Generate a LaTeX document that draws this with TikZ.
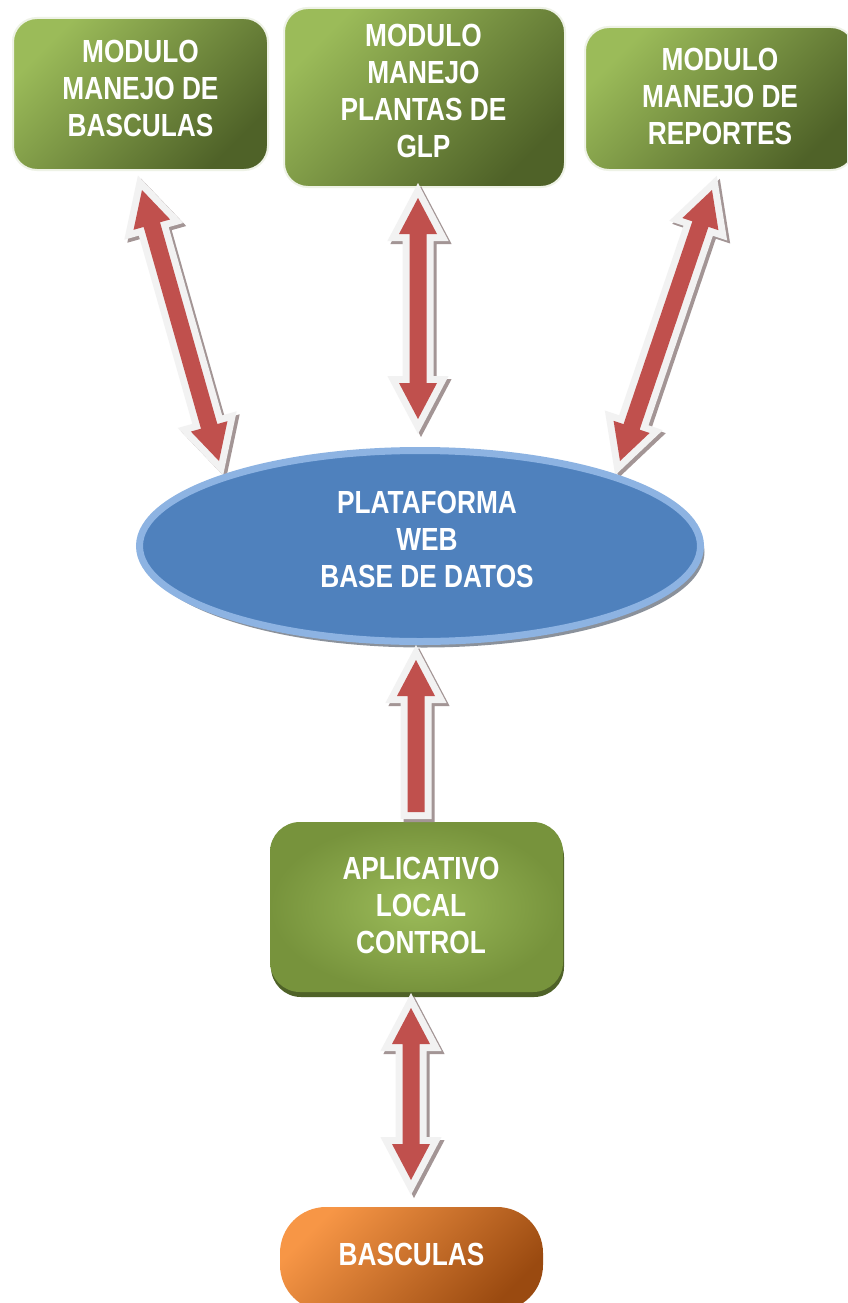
\documentclass[tikz,border=0pt]{standalone}
\usepackage{fontspec}
\newfontfamily\narrowfont{Liberation Sans}[FakeStretch=0.82]
\usetikzlibrary{calc,shapes.geometric,shadows,backgrounds}
\definecolor{gl}{HTML}{9BBB59}
\definecolor{gm}{HTML}{77933C}
\definecolor{gd}{HTML}{4F6228}
\definecolor{boxedge}{HTML}{EEF2E6}
\definecolor{webfill}{HTML}{4F81BD}
\definecolor{webedge}{HTML}{8DB3E2}
\definecolor{webshadow}{HTML}{8A919B}
\definecolor{orl}{HTML}{F79646}
\definecolor{ord}{HTML}{9A4A10}
\definecolor{arrred}{HTML}{C0504D}
\definecolor{arrwhite}{HTML}{F2F2F2}
\definecolor{arrshadow}{HTML}{A39595}
% double-headed block arrow outline between two tips
\newcommand{\dblpath}[2]{(#1) -- ($(#1)!36pt!(#2)!19pt!90:(#2)$) -- ($(#1)!36pt!(#2)!8.5pt!90:(#2)$) -- ($(#2)!36pt!(#1)!8.5pt!-90:(#1)$) -- ($(#2)!36pt!(#1)!19pt!-90:(#1)$) -- (#2) -- ($(#2)!36pt!(#1)!19pt!90:(#1)$) -- ($(#2)!36pt!(#1)!8.5pt!90:(#1)$) -- ($(#1)!36pt!(#2)!8.5pt!-90:(#2)$) -- ($(#1)!36pt!(#2)!19pt!-90:(#2)$) -- cycle}
% single-headed block arrow: tip #1, flat tail #2
\newcommand{\sglpath}[2]{(#1) -- ($(#1)!36pt!(#2)!19pt!90:(#2)$) -- ($(#1)!36pt!(#2)!8.5pt!90:(#2)$) -- ($(#2)!8.5pt!-90:(#1)$) -- ($(#2)!8.5pt!90:(#1)$) -- ($(#1)!36pt!(#2)!8.5pt!-90:(#2)$) -- ($(#1)!36pt!(#2)!19pt!-90:(#2)$) -- cycle}
\newcommand{\blockarrow}[3]{%
  \fill[arrshadow, draw=arrshadow, line width=14pt, line join=miter, transform canvas={shift={(3pt,-3pt)}}] #1{#2}{#3};
  \draw[arrwhite, fill=arrwhite, line width=14pt, line join=miter] #1{#2}{#3};
  \fill[arrred] #1{#2}{#3};}
\begin{document}
\begin{tikzpicture}[x=1pt,y=-1pt,
  lbl/.style={text=white, font=\narrowfont\bfseries\fontsize{32}{37}\selectfont, align=center, inner sep=0pt},
  modbox/.style={rectangle, rounded corners=24pt, draw=boxedge, line width=2pt,
     top color=gl, bottom color=gd, shading angle=45, inner sep=0pt},
  webnode/.style={ellipse, fill=webfill, draw=webedge, line width=7pt, inner sep=0pt,
     drop shadow={shadow xshift=4pt, shadow yshift=-6pt, fill=webshadow, opacity=1}},
  appbox/.style={rectangle, rounded corners=30pt, inner color=gl, outer color=gm, inner sep=0pt,
     drop shadow={shadow xshift=1pt, shadow yshift=-5pt, fill=gd, opacity=1, rounded corners=30pt}},
  basbox/.style={rectangle, rounded corners=46pt, top color=orl, bottom color=ord, shading angle=45, inner sep=0pt}]
\useasboundingbox (0,0) rectangle (847,1303);
\clip (0,0) rectangle (847,1303);
\fill[white] (0,0) rectangle (847,1303);

% top modules
\node[modbox, minimum width=255pt, minimum height=152pt,
  label={[lbl, yshift=5.5pt]center:{MODULO\\MANEJO DE\\BASCULAS}}] (b1) at (140.5,94) {};
\node[modbox, minimum width=281pt, minimum height=179pt,
  label={[lbl, yshift=6.5pt, xshift=-1pt]center:{MODULO\\MANEJO\\PLANTAS DE\\GLP}}] (b2) at (424.5,97.5) {};
\node[modbox, minimum width=270pt, minimum height=143pt,
  label={[lbl, yshift=2pt]center:{MODULO\\MANEJO DE\\REPORTES}}] (b3) at (720,98.5) {};

% arrow end points
\coordinate (a1t) at (142,190);
\coordinate (a1b) at (219,461);
\coordinate (a2t) at (418,198);
\coordinate (a2b) at (418,419);
\coordinate (a3t) at (712,190);
\coordinate (a3b) at (620,461);

\blockarrow{\dblpath}{a1t}{a1b}
\blockarrow{\dblpath}{a2t}{a2b}
\blockarrow{\dblpath}{a3t}{a3b}

% central platform
\node[webnode, minimum width=561pt, minimum height=191pt,
  label={[lbl, xshift=7pt, yshift=7pt]center:{PLATAFORMA\\WEB\\BASE DE DATOS}}] (web) at (420,546) {};

% local application
\node[appbox, minimum width=293pt, minimum height=170pt,
  label={[lbl, xshift=4.5pt, yshift=2pt]center:{APLICATIVO\\LOCAL\\CONTROL}}] (app) at (416.5,907) {};

\coordinate (a4t) at (416,660);
\coordinate (a4b) at (416,812);
\blockarrow{\sglpath}{a4t}{a4b}

% scales
\node[basbox, minimum width=263pt, minimum height=104pt,
  label={[lbl, yshift=5pt]center:{BASCULAS}}] (bas) at (411.5,1259) {};

\coordinate (a5t) at (411,1008);
\coordinate (a5b) at (411,1180);
\blockarrow{\dblpath}{a5t}{a5b}
\end{tikzpicture}
\end{document}
